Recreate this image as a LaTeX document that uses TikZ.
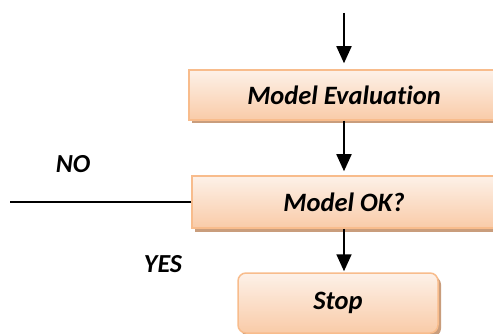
\documentclass[tikz,border=0pt]{standalone}
\usepackage{fontspec}
\setmainfont{Carlito}[Ligatures=NoCommon]
\usetikzlibrary{arrows.meta,shadows}
\definecolor{boxedge}{HTML}{F8BC8C}
\definecolor{boxtop}{HTML}{FDF1E8}
\definecolor{boxbot}{HTML}{F9CBA8}
\definecolor{shadowc}{HTML}{C99D7C}
\begin{document}
\begin{tikzpicture}[x=1pt,y=-1pt,
  box/.style={draw=boxedge, line width=1.5pt, top color=boxtop, bottom color=boxbot,
    inner sep=0pt, font=\fontsize{26.5}{30}\selectfont\bfseries\itshape,
    drop shadow={shadow xshift=3pt, shadow yshift=-3.5pt, fill=shadowc, opacity=1}},
  lbl/.style={font=\fontsize{26}{30}\selectfont\bfseries\itshape, inner sep=0pt},
  arr/.style={line width=1.8pt, -{Triangle[length=17pt,width=15pt]}},
  conn/.style={line width=1.4pt}]
\path[use as bounding box, clip] (0,0) rectangle (493,334);
\node[box, minimum width=310pt, minimum height=50pt] (eval) at (344,95) {Model Evaluation};
\node[box, minimum width=304pt, minimum height=52pt] (ok) at (344,202) {Model OK?};
\node[box, rounded corners=8pt, minimum width=200pt, minimum height=60pt] (stop) at (338,303) {Stop};
\coordinate (in) at (344,13);
\coordinate (noend) at (10,202);
\draw[arr, shorten >=6pt] (in) -- (eval.north);
\draw[arr, shorten >=4pt] (eval.south) -- (ok.north);
\draw[arr, shorten >=1pt] (ok.south) -- (ok.south |- stop.north);
\draw[conn] (ok.west) -- (noend);
\node[lbl] (no) at (73,164) {NO};
\node[lbl] (yes) at (163,264) {YES};
\end{tikzpicture}
\end{document}
